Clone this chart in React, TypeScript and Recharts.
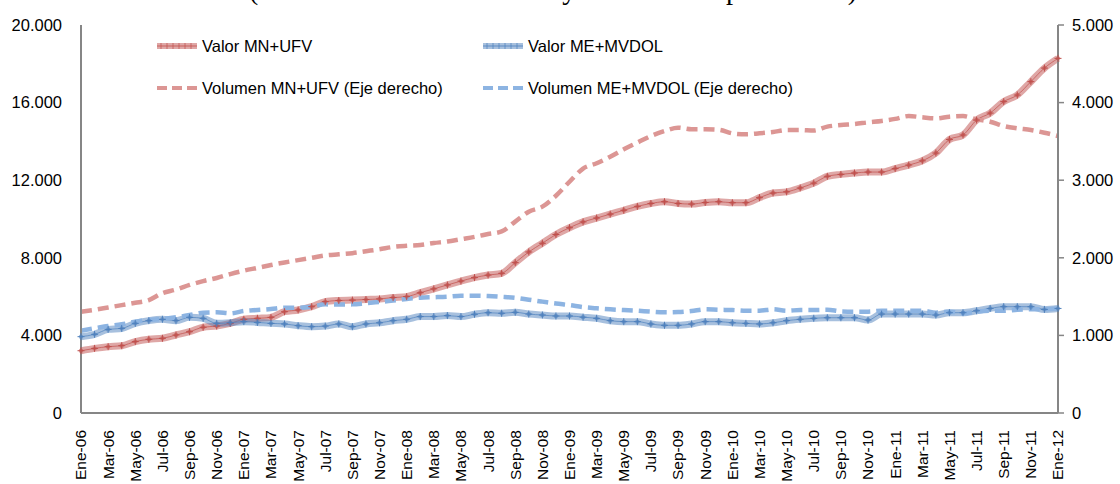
import React from "react";
import { LineChart, Line, XAxis, YAxis, Legend } from "recharts";

const MONTHS = ["Ene", "Feb", "Mar", "Abr", "May", "Jun", "Jul", "Ago", "Sep", "Oct", "Nov", "Dic"];
const YEARS = ["06", "07", "08", "09", "10", "11", "12"];
const categories = YEARS.flatMap((y) => MONTHS.map((m) => `${m}-${y}`)).slice(0, 73);

// Valor (eje izquierdo)
const valorMN = [
  3210, 3330, 3420, 3470, 3680, 3800, 3850, 4020, 4190, 4420, 4480, 4620,
  4830, 4880, 4930, 5220, 5310, 5480, 5740, 5800, 5820, 5850, 5880, 5950,
  6000, 6200, 6400, 6600, 6800, 6980, 7110, 7200, 7750, 8300, 8750, 9200,
  9550, 9850, 10050, 10250, 10450, 10650, 10800, 10890, 10800, 10770, 10850, 10890,
  10840, 10840, 11100, 11340, 11400, 11600, 11850, 12200, 12300, 12370, 12420, 12420,
  12600, 12780, 13000, 13400, 14100, 14330, 15100, 15460, 16050, 16390, 17080, 17780,
  18280,
];
const valorME = [
  3935, 4055, 4310, 4360, 4620, 4760, 4830, 4760, 4930, 4880, 4620, 4650,
  4710, 4670, 4620, 4590, 4500, 4450, 4480, 4590, 4450, 4590, 4650, 4760,
  4830, 4970, 4970, 5020, 4970, 5090, 5170, 5140, 5190, 5100, 5050, 5000,
  5000, 4940, 4880, 4760, 4710, 4710, 4590, 4520, 4520, 4590, 4710, 4710,
  4650, 4620, 4590, 4650, 4760, 4830, 4880, 4910, 4910, 4910, 4790, 5100,
  5100, 5100, 5100, 5050, 5170, 5170, 5270, 5390, 5480, 5480, 5480, 5340,
  5390,
];
// Volumen (eje derecho)
const volumenMN = [
  1305, 1330, 1360, 1390, 1420, 1456, 1545, 1590, 1650, 1700, 1740, 1790,
  1834, 1870, 1907, 1940, 1970, 2000, 2030, 2045, 2060, 2085, 2110, 2140,
  2155, 2165, 2190, 2210, 2240, 2270, 2306, 2340, 2466, 2594, 2659, 2800,
  2980, 3150, 3218, 3303, 3398, 3484, 3570, 3634, 3677, 3656, 3656, 3650,
  3604, 3591, 3604, 3621, 3647, 3647, 3640, 3690, 3711, 3724, 3745, 3763,
  3790, 3827, 3810, 3797, 3819, 3827, 3784, 3754, 3698, 3668, 3647, 3612,
  3570,
];
const volumenME = [
  1061, 1091, 1121, 1143, 1177, 1198, 1211, 1233, 1263, 1293, 1297, 1285,
  1314, 1327, 1340, 1357, 1357, 1370, 1400, 1398, 1400, 1415, 1430, 1450,
  1470, 1486, 1492, 1499, 1512, 1512, 1508, 1498, 1485, 1460, 1435, 1410,
  1390, 1365, 1349, 1336, 1327, 1318, 1306, 1297, 1300, 1314, 1336, 1330,
  1327, 1318, 1318, 1336, 1318, 1327, 1327, 1330, 1310, 1306, 1306, 1318,
  1318, 1318, 1318, 1293, 1306, 1284, 1306, 1318, 1318, 1330, 1336, 1336,
  1349,
];

const leftTicks = [0, 4000, 8000, 12000, 16000, 20000];
const rightTicks = [0, 1000, 2000, 3000, 4000, 5000];

const data = categories.map((mes, i) => ({
  mes,
  valorMN: valorMN[i],
  valorME: valorME[i],
  volumenMN: volumenMN[i],
  volumenME: volumenME[i],
}));

const FONT = "'Liberation Sans', Arial, sans-serif";
const RED = "#C0504D";
const BLUE = "#4F81BD";
const RED_DASH = "#DC9694";
const BLUE_DASH = "#8DB4E2";

const legendItems = [
  { name: "Valor MN+UFV", color: RED, dashed: false, x: 157, y: 46 },
  { name: "Valor ME+MVDOL", color: BLUE, dashed: false, x: 483, y: 46 },
  { name: "Volumen MN+UFV (Eje derecho)", color: RED_DASH, dashed: true, x: 157, y: 88 },
  { name: "Volumen ME+MVDOL (Eje derecho)", color: BLUE_DASH, dashed: true, x: 483, y: 88 },
];

const fmt = (v: number) => (v === 0 ? "0" : `${v / 1000}.000`);

const XTick = ({ x, y, payload }: any) => (
  <text
    x={x}
    y={y}
    transform={`rotate(-90, ${x}, ${y})`}
    textAnchor="end"
    dy="0.35em"
    fontSize={15.5}
    fontFamily={FONT}
    fill="#000"
  >
    {payload.value}
  </text>
);

const crossDot = (color: string) => (props: any) => {
  const { cx, cy, index } = props;
  if (cx == null || cy == null) return <g key={index} />;
  return (
    <g key={index}>
      <line x1={cx - 3.5} x2={cx + 3.5} y1={cy} y2={cy} stroke={color} strokeWidth={1} />
      <line x1={cx} x2={cx} y1={cy - 3.5} y2={cy + 3.5} stroke={color} strokeWidth={1} />
      <circle cx={cx} cy={cy} r={2.2} fill={color} fillOpacity={0.6} />
    </g>
  );
};

const Swatch = ({ color, dashed }: { color: string; dashed: boolean }) => (
  <svg width={40} height={12} style={{ display: "block" }}>
    {dashed ? (
      <line x1={0} x2={40} y1={6} y2={6} stroke={color} strokeWidth={4} strokeDasharray="10 5" />
    ) : (
      <g>
        <line x1={0} x2={40} y1={6} y2={6} stroke={color} strokeOpacity={0.5} strokeWidth={6} />
        <line x1={0} x2={40} y1={6} y2={6} stroke={color} strokeOpacity={0.8} strokeWidth={1} />
        {[4, 10, 16, 22, 28, 34].map((p) => (
          <line key={p} x1={p} x2={p} y1={3} y2={9} stroke={color} strokeOpacity={0.7} strokeWidth={1} />
        ))}
      </g>
    )}
  </svg>
);

const renderLegend = () => (
  <div style={{ position: "relative", width: 1120, height: 120 }}>
    {legendItems.map((it) => (
      <div
        key={it.name}
        style={{
          position: "absolute",
          left: it.x,
          top: it.y - 10,
          height: 20,
          display: "flex",
          alignItems: "center",
          whiteSpace: "nowrap",
          fontFamily: FONT,
          fontSize: 16.5,
          color: "#000",
        }}
      >
        <Swatch color={it.color} dashed={it.dashed} />
        <span style={{ marginLeft: 5 }}>{it.name}</span>
      </div>
    ))}
  </div>
);

export default function App() {
  return (
    <div
      style={{
        position: "absolute",
        left: 0,
        top: 0,
        width: 1120,
        height: 484,
        background: "#fff",
        overflow: "hidden",
      }}
    >
      {/* título recortado en la parte superior, como en el original */}
      <div
        style={{
          position: "absolute",
          left: 0,
          width: 1106,
          top: -24.5,
          textAlign: "center",
          fontFamily: "'Liberation Serif', 'Times New Roman', serif",
          fontSize: 28.5,
          lineHeight: "28.5px",
          whiteSpace: "nowrap",
        }}
      >
        (En millones de bolivianos y número de operaciones)
      </div>
      <LineChart
        width={1120}
        height={484}
        data={data}
        margin={{ top: 25, right: 0, left: 0, bottom: 0 }}
      >
        <XAxis
          dataKey="mes"
          interval={1}
          height={71}
          tickLine={false}
          axisLine={{ stroke: "#868686", strokeWidth: 2 }}
          tickSize={6}
          tickMargin={11}
          tick={<XTick />}
        />
        <YAxis
          yAxisId="left"
          orientation="left"
          domain={[0, 20000]}
          ticks={leftTicks}
          width={81}
          tickFormatter={fmt}
          tickLine={false}
          tickSize={6}
          tickMargin={13}
          axisLine={{ stroke: "#868686", strokeWidth: 2 }}
          tick={{ fontSize: 16.5, fontFamily: FONT, fill: "#000" }}
        />
        <YAxis
          yAxisId="right"
          orientation="right"
          domain={[0, 5000]}
          ticks={rightTicks}
          width={62}
          tickFormatter={fmt}
          tickLine={{ stroke: "#868686", strokeWidth: 1.5 }}
          tickSize={6}
          tickMargin={8}
          axisLine={{ stroke: "#868686", strokeWidth: 2 }}
          tick={{ fontSize: 16.5, fontFamily: FONT, fill: "#000" }}
        />
        <Legend
          verticalAlign="middle"
          align="center"
          layout="horizontal"
          content={renderLegend}
          wrapperStyle={{ top: 0, left: 0, width: 1120, height: 120 }}
        />
        <Line
          yAxisId="left"
          type="monotone"
          dataKey="valorMN"
          name="Valor MN+UFV"
          stroke={RED}
          strokeOpacity={0.5}
          strokeWidth={7}
          dot={false}
          legendType="none"
          isAnimationActive={false}
        />
        <Line
          yAxisId="left"
          type="monotone"
          dataKey="valorMN"
          name="Valor MN+UFV"
          stroke={RED}
          strokeOpacity={0.7}
          strokeWidth={1}
          dot={crossDot(RED)}
          isAnimationActive={false}
        />
        <Line
          yAxisId="left"
          type="monotone"
          dataKey="valorME"
          name="Valor ME+MVDOL"
          stroke={BLUE}
          strokeOpacity={0.5}
          strokeWidth={7}
          dot={false}
          legendType="none"
          isAnimationActive={false}
        />
        <Line
          yAxisId="left"
          type="monotone"
          dataKey="valorME"
          name="Valor ME+MVDOL"
          stroke={BLUE}
          strokeOpacity={0.7}
          strokeWidth={1}
          dot={crossDot(BLUE)}
          isAnimationActive={false}
        />
        <Line
          yAxisId="right"
          type="monotone"
          dataKey="volumenMN"
          name="Volumen MN+UFV (Eje derecho)"
          stroke={RED_DASH}
          strokeWidth={4.5}
          strokeDasharray="11 6"
          dot={false}
          isAnimationActive={false}
        />
        <Line
          yAxisId="right"
          type="monotone"
          dataKey="volumenME"
          name="Volumen ME+MVDOL (Eje derecho)"
          stroke={BLUE_DASH}
          strokeWidth={4.5}
          strokeDasharray="11 6"
          dot={false}
          isAnimationActive={false}
        />
      </LineChart>
    </div>
  );
}
